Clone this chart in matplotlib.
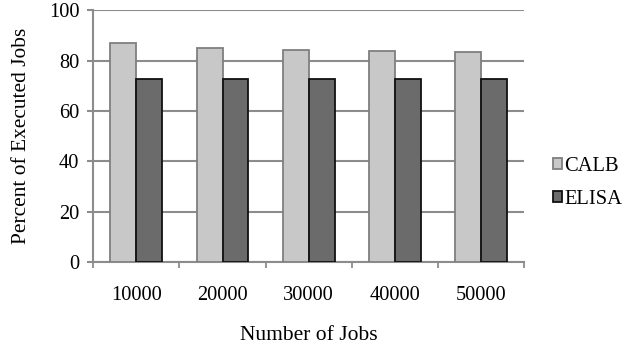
import matplotlib
matplotlib.use("Agg")
import matplotlib.pyplot as plt
import numpy as np

jobs = ["10000", "20000", "30000", "40000", "50000"]
calb = [87.0, 85.0, 84.2, 83.7, 83.2]
elisa = [72.8, 72.7, 72.8, 72.8, 72.7]
series_names = ["CALB", "ELISA"]

plt.rcParams["font.family"] = ["Liberation Serif", "DejaVu Serif"]

fig = plt.figure(figsize=(6.3, 3.45), dpi=100)
ax = fig.add_axes([0.148, 0.2406, 0.684, 0.730])

x = np.arange(len(jobs))
w = 0.3
ax.bar(x - w / 2, calb, w, color="#c8c8c8", edgecolor="#7f7f7f", linewidth=1.3,
       label=series_names[0], zorder=3)
ax.bar(x + w / 2, elisa, w, color="#6b6b6b", edgecolor="#111111", linewidth=1.3,
       label=series_names[1], zorder=3)

ax.set_xlim(-0.5, len(jobs) - 0.5)
ax.set_ylim(0, 100)
ax.set_yticks(np.arange(0, 101, 20))
ax.yaxis.grid(True, color="#8c8c8c", linewidth=1.5, zorder=0)
ax.set_axisbelow(True)

# category labels sit between boundary tick marks
ax.set_xticks(x)
ax.set_xticklabels(jobs)
ax.tick_params(axis="x", length=0, pad=17.5, labelsize=14.7)
ax.set_xticks(np.arange(-0.5, len(jobs)), minor=True)
ax.tick_params(axis="x", which="minor", length=4, color="#8c8c8c", width=1.3)
ax.tick_params(axis="y", length=4, color="#8c8c8c", width=1.5, labelsize=14.7, pad=6)

for s in ("top", "right"):
    ax.spines[s].set_visible(False)
for s in ("left", "bottom"):
    ax.spines[s].set_color("#8c8c8c")
    ax.spines[s].set_linewidth(1.5)

ax.set_xlabel("Number of Jobs", fontsize=15.5, labelpad=15)
ax.set_ylabel("Percent of Executed Jobs", fontsize=15.4, labelpad=13)

leg = fig.legend(loc="center left", bbox_to_anchor=(0.878, 0.47), frameon=False,
                 fontsize=14.8, handlelength=0.45, handleheight=0.45,
                 handletextpad=0.1, labelspacing=0.66, borderpad=0,
                 borderaxespad=0)

fig.savefig("out.png", dpi=100)
